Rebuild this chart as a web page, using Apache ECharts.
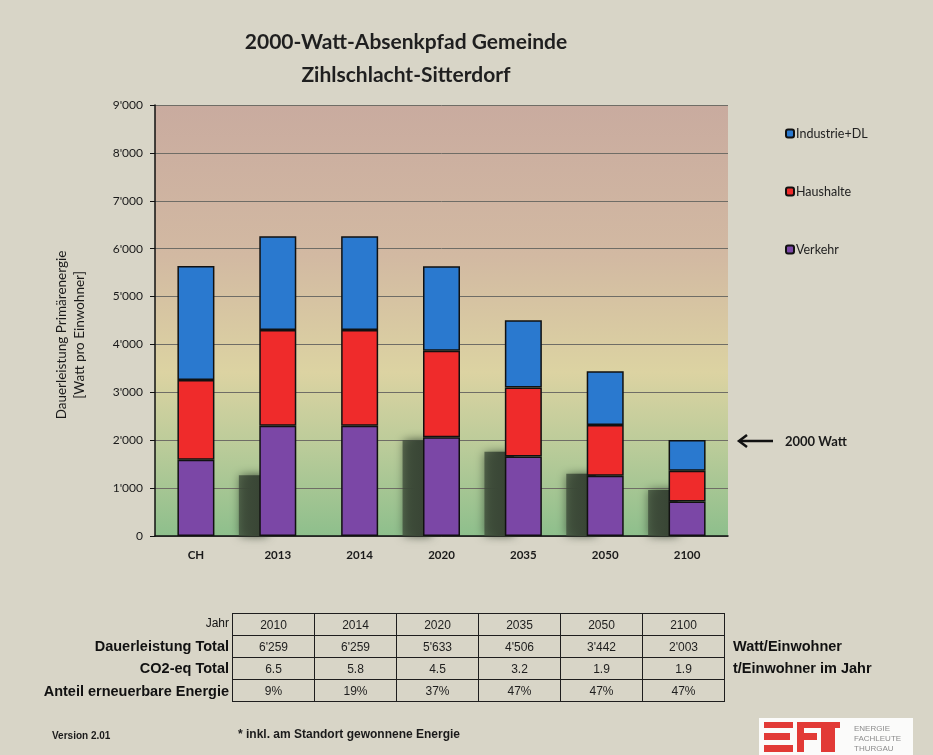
<!DOCTYPE html>
<html>
<head>
<meta charset="utf-8">
<script src="https://cdn.jsdelivr.net/npm/echarts@6/dist/echarts.min.js"></script>
<style>
  html, body { margin:0; padding:0; background:#d8d5c7; }
  #wrap { position:relative; width:933px; height:755px; background:#d8d5c7; overflow:hidden; }
  #chart { position:absolute; left:0; top:0; width:933px; height:755px; }
  .tbl { position:absolute; left:232px; top:613px; border-collapse:collapse; font-family:'Liberation Sans Narrow','Arial Narrow','Liberation Sans',sans-serif; }
  .tbl td { border:1.5px solid #1e1e1e; width:81px; height:21px; padding:0; text-align:center; font-size:12px; color:#1e1e1e; }
  .lbl { position:absolute; right:704px; font-family:'Liberation Sans Narrow','Arial Narrow','Liberation Sans',sans-serif; font-weight:bold; font-size:14.5px; color:#111; white-space:nowrap; text-align:right; }
  .unit { position:absolute; left:733px; font-family:'Liberation Sans Narrow','Arial Narrow','Liberation Sans',sans-serif; font-weight:bold; font-size:14.5px; color:#111; white-space:nowrap; }
</style>
</head>
<body>
<div id="wrap">
  <div id="chart"></div>
  <div id="table"></div>
</div>
<script>
// ---- data ----
const categories = ['CH', '2013', '2014', '2020', '2035', '2050', '2100'];
const verkehr    = [1590, 2300, 2300, 2060, 1660, 1260, 720];
const haushalte  = [1670, 2000, 2000, 1810, 1440, 1060, 640];
const industrie  = [2380, 1960, 1960, 1763, 1406, 1122, 643];
const decorShadow = [0, 1310, 0, 2040, 1800, 1340, 1000];

const tableYears  = ['2010', '2014', '2020', '2035', '2050', '2100'];
const tableTotal  = ["6'259", "6'259", "5'633", "4'506", "3'442", "2'003"];
const tableCO2    = ['6.5', '5.8', '4.5', '3.2', '1.9', '1.9'];
const tableRenew  = ['9%', '19%', '37%', '47%', '47%', '47%'];
const tableRowLabels = ['Jahr', 'Dauerleistung Total', 'CO2-eq Total', 'Anteil erneuerbare Energie'];
const tableUnits = ['', 'Watt/Einwohner', 't/Einwohner im Jahr', ''];

// ---- table (HTML) ----
(function buildTable() {
  const host = document.getElementById('table');
  const rows = [tableYears, tableTotal, tableCO2, tableRenew];
  let html = '<table class="tbl">';
  rows.forEach(r => {
    html += '<tr>' + r.map(v => '<td>' + v + '</td>').join('') + '</tr>';
  });
  html += '</table>';
  const rowTops = [613, 635.5, 658, 680.5];
  tableRowLabels.forEach((t, i) => {
    const isJahr = i === 0;
    html += '<div class="lbl" style="top:' + (rowTops[i] + (isJahr ? 3 : 2)) + 'px;' +
      (isJahr ? 'font-weight:normal;font-size:12px;' : '') + '">' + t + '</div>';
    if (tableUnits[i]) {
      html += '<div class="unit" style="top:' + (rowTops[i] + 2) + 'px">' + tableUnits[i] + '</div>';
    }
  });
  host.innerHTML = html;
})();

// ---- chart ----
const chart = echarts.init(document.getElementById('chart'));
const fmt = v => {
  const s = String(v);
  return s.length > 3 ? s.slice(0, s.length - 3) + "'" + s.slice(-3) : s;
};
const barBorder = { borderColor: '#111', borderWidth: 1.5 };

const option = {
  backgroundColor: 'transparent',
  animation: false,
  title: {
    text: '2000-Watt-Absenkpfad Gemeinde\nZihlschlacht-Sitterdorf',
    left: 401, top: 21, textAlign: 'center',
    textStyle: { fontFamily: 'Lato', fontSize: 21, fontWeight: 'bold', color: '#1f1f1f', lineHeight: 33 }
  },
  legend: {
    orient: 'vertical', left: 780, top: 122,
    itemWidth: 8, itemHeight: 8, itemGap: 45,
    data: ['Industrie+DL', 'Haushalte', 'Verkehr'],
    textStyle: { fontFamily: 'Lato', fontSize: 12.5, color: '#222', padding: [0, 0, 0, -3] }
  },
  grid: {
    left: 155, right: 205, top: 105, bottom: 219, show: true, borderWidth: 0,
    backgroundColor: {
      type: 'linear', x: 0, y: 0, x2: 0, y2: 1,
      colorStops: [
        { offset: 0, color: '#c9ab9f' },
        { offset: 0.35, color: '#d2b9a2' },
        { offset: 0.62, color: '#dcd3a2' },
        { offset: 0.8, color: '#b9cb99' },
        { offset: 1, color: '#8ebf8c' }
      ]
    }
  },
  xAxis: {
    type: 'category', data: categories,
    axisLine: { lineStyle: { color: '#111', width: 1.5 } },
    axisTick: { length: 5, lineStyle: { color: '#111' } },
    axisLabel: { margin: 13, fontFamily: 'Lato', fontSize: 11.5, fontWeight: 'bold', color: '#1a1a1a' }
  },
  yAxis: {
    type: 'value', min: 0, max: 9000, interval: 1000,
    axisLine: { show: true, lineStyle: { color: '#111', width: 1.5 } },
    axisTick: { show: true, length: 5, lineStyle: { color: '#111' } },
    axisLabel: { margin: 12, fontFamily: 'Lato', fontSize: 12, color: '#1a1a1a', formatter: fmt },
    splitLine: { lineStyle: { color: '#6f6d66', width: 1 } }
  },
  graphic: [
    { type: 'text', x: 71, y: 335, rotation: Math.PI / 2,
      style: { text: 'Dauerleistung Primärenergie\n[Watt pro Einwohner]', fill: '#1a1a1a',
        font: '13.5px Lato', align: 'center', verticalAlign: 'middle', lineHeight: 18 } },
    // 2000 Watt arrow
    { type: 'line', shape: { x1: 773, y1: 441, x2: 740, y2: 441 }, style: { stroke: '#111', lineWidth: 2.5 } },
    { type: 'polyline', shape: { points: [[747, 435], [739, 441], [747, 447]] }, style: { stroke: '#111', lineWidth: 2.5, fill: null } },
    { type: 'text', x: 785, y: 442, style: { text: '2000 Watt', fill: '#1a1a1a', font: 'bold 13px Lato', verticalAlign: 'middle' } },
    // footer
    { type: 'text', x: 52, y: 736, style: { text: 'Version 2.01', fill: '#1a1a1a', font: 'bold 10px "Liberation Sans Narrow", "Liberation Sans"', verticalAlign: 'middle' } },
    { type: 'text', x: 238, y: 735, style: { text: '* inkl. am Standort gewonnene Energie', fill: '#1a1a1a', font: 'bold 12px "Liberation Sans Narrow", "Liberation Sans"', verticalAlign: 'middle' } },
    // logo
    { type: 'rect', shape: { x: 759, y: 718, width: 154, height: 37 }, style: { fill: '#fbfbfa' } },
    { type: 'rect', shape: { x: 764, y: 722, width: 29, height: 6 }, style: { fill: '#e23a36' } },
    { type: 'rect', shape: { x: 764, y: 733, width: 26, height: 7 }, style: { fill: '#e23a36' } },
    { type: 'rect', shape: { x: 764, y: 745, width: 29, height: 7 }, style: { fill: '#e23a36' } },
    { type: 'rect', shape: { x: 797, y: 722, width: 43, height: 6 }, style: { fill: '#e23a36' } },
    { type: 'rect', shape: { x: 797, y: 733, width: 20, height: 7 }, style: { fill: '#e23a36' } },
    { type: 'rect', shape: { x: 797, y: 728, width: 7, height: 24 }, style: { fill: '#e23a36' } },
    { type: 'rect', shape: { x: 821, y: 728, width: 14, height: 24 }, style: { fill: '#e23a36' } },
    { type: 'text', x: 854, y: 739, style: { text: 'ENERGIE\nFACHLEUTE\nTHURGAU', fill: '#8c8c8c',
        font: '8px "Liberation Sans Narrow", "Liberation Sans"', verticalAlign: 'middle', lineHeight: 10 } }
  ],
  series: [
    {
      name: 'decor', type: 'custom', z: 1, silent: true,
      data: decorShadow.map((v, i) => [i, v]),
      renderItem: function (params, api) {
        const v = api.value(1);
        if (!v) return null;
        const base = api.coord([api.value(0), 0]);
        const top = api.coord([api.value(0), v]);
        const band = api.size([1, 0])[0];
        return {
          type: 'rect',
          shape: { x: base[0] - band / 2 + 2, y: top[1] + 2, width: band * 0.36, height: base[1] - top[1] - 2 },
          style: {
            fill: {
              type: 'linear', x: 0, y: 0, x2: 1, y2: 0,
              colorStops: [{ offset: 0, color: 'rgba(60,74,56,0.75)' }, { offset: 0.5, color: '#3b4837' }, { offset: 1, color: '#364232' }]
            },
            shadowBlur: 9, shadowColor: 'rgba(50,62,45,0.85)'
          }
        };
      }
    },
    { name: 'Verkehr', type: 'bar', stack: 'a', barWidth: 37, z: 3, data: verkehr,
      itemStyle: Object.assign({ color: '#7b47a6' }, barBorder) },
    { name: 'Haushalte', type: 'bar', stack: 'a', barWidth: 37, z: 3, data: haushalte,
      itemStyle: Object.assign({ color: '#ef2b2b' }, barBorder) },
    { name: 'Industrie+DL', type: 'bar', stack: 'a', barWidth: 37, z: 3, data: industrie,
      itemStyle: Object.assign({ color: '#2a79cf' }, barBorder) }
  ]
};
chart.setOption(option);
</script>
</body>
</html>
